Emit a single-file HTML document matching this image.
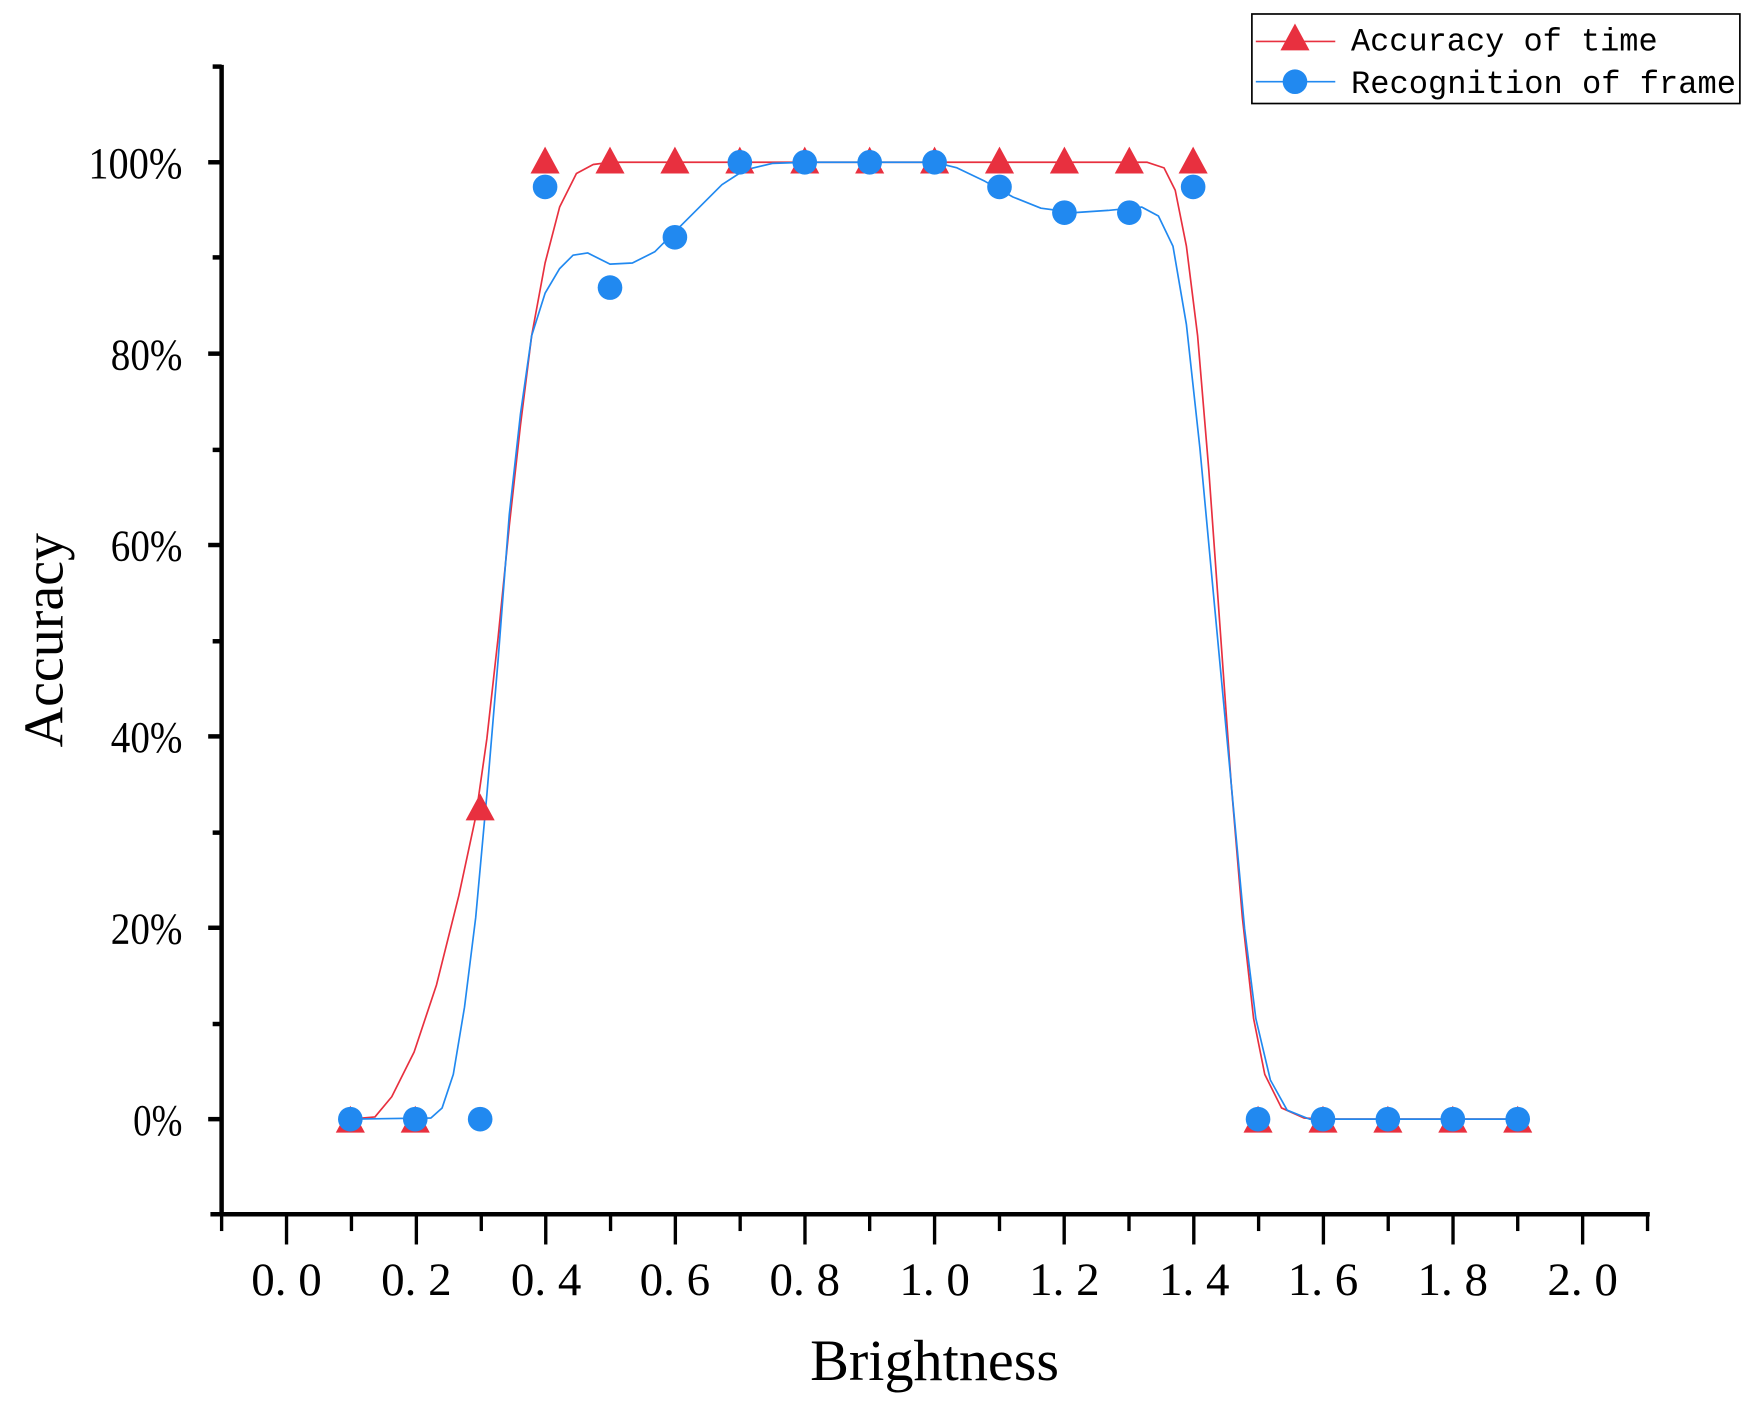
<!DOCTYPE html>
<html><head><meta charset="utf-8"><style>html,body{margin:0;padding:0;background:#fff}svg{display:block}</style></head><body>
<svg width="1755" height="1409" viewBox="0 0 1568 1259" preserveAspectRatio="none" xmlns="http://www.w3.org/2000/svg">
<rect width="1568" height="1259" fill="#fff"/>
<g stroke="#000" stroke-width="4" fill="none">
<line x1="198" y1="58" x2="198" y2="1087"/>
<line x1="188" y1="1085" x2="1474" y2="1085"/>
<line x1="186" y1="145" x2="198" y2="145"/><line x1="186" y1="316" x2="198" y2="316"/><line x1="186" y1="487" x2="198" y2="487"/><line x1="186" y1="658" x2="198" y2="658"/><line x1="186" y1="829" x2="198" y2="829"/><line x1="186" y1="1000" x2="198" y2="1000"/>
<line x1="190" y1="59.5" x2="198" y2="59.5"/><line x1="190" y1="230" x2="198" y2="230"/><line x1="190" y1="402" x2="198" y2="402"/><line x1="190" y1="573" x2="198" y2="573"/><line x1="190" y1="744" x2="198" y2="744"/><line x1="190" y1="915" x2="198" y2="915"/>
</g>
<g stroke="#000" stroke-width="3">
<line x1="256" y1="1085" x2="256" y2="1112"/><line x1="372" y1="1085" x2="372" y2="1112"/><line x1="487.6" y1="1085" x2="487.6" y2="1112"/><line x1="603.4" y1="1085" x2="603.4" y2="1112"/><line x1="719.2" y1="1085" x2="719.2" y2="1112"/><line x1="835" y1="1085" x2="835" y2="1112"/><line x1="950.8" y1="1085" x2="950.8" y2="1112"/><line x1="1066.6" y1="1085" x2="1066.6" y2="1112"/><line x1="1182.4" y1="1085" x2="1182.4" y2="1112"/><line x1="1298.2" y1="1085" x2="1298.2" y2="1112"/><line x1="1414" y1="1085" x2="1414" y2="1112"/>
<line x1="198" y1="1085" x2="198" y2="1100"/><line x1="314" y1="1085" x2="314" y2="1100"/><line x1="430" y1="1085" x2="430" y2="1100"/><line x1="545.5" y1="1085" x2="545.5" y2="1100"/><line x1="661.3" y1="1085" x2="661.3" y2="1100"/><line x1="777" y1="1085" x2="777" y2="1100"/><line x1="893" y1="1085" x2="893" y2="1100"/><line x1="1008.7" y1="1085" x2="1008.7" y2="1100"/><line x1="1124.5" y1="1085" x2="1124.5" y2="1100"/><line x1="1240.3" y1="1085" x2="1240.3" y2="1100"/><line x1="1356" y1="1085" x2="1356" y2="1100"/><line x1="1472" y1="1085" x2="1472" y2="1100"/>
</g>
<g font-family="Liberation Serif, serif" font-size="40" text-anchor="end" fill="#000">
<text x="163" y="159" textLength="84" lengthAdjust="spacingAndGlyphs">100%</text>
<text x="163" y="330" textLength="64" lengthAdjust="spacingAndGlyphs">80%</text>
<text x="163" y="501" textLength="64" lengthAdjust="spacingAndGlyphs">60%</text>
<text x="163" y="672" textLength="64" lengthAdjust="spacingAndGlyphs">40%</text>
<text x="163" y="843" textLength="64" lengthAdjust="spacingAndGlyphs">20%</text>
<text x="163" y="1014" textLength="44" lengthAdjust="spacingAndGlyphs">0%</text>
</g>
<g font-family="Liberation Serif, serif" font-size="42" text-anchor="middle" fill="#000">
<text x="256" y="1157">0. 0</text><text x="372" y="1157">0. 2</text><text x="488" y="1157">0. 4</text><text x="603" y="1157">0. 6</text><text x="719" y="1157">0. 8</text><text x="835" y="1157">1. 0</text><text x="951" y="1157">1. 2</text><text x="1067" y="1157">1. 4</text><text x="1182" y="1157">1. 6</text><text x="1298" y="1157">1. 8</text><text x="1414" y="1157">2. 0</text>
</g>
<text x="835" y="1233" font-family="Liberation Serif, serif" font-size="52" text-anchor="middle">Brightness</text>
<text transform="translate(56,572) rotate(-90)" font-family="Liberation Serif, serif" font-size="50" text-anchor="middle">Accuracy</text>
<polyline fill="none" stroke="#e8303f" stroke-width="1.5" stroke-linejoin="round" points="313,1000 335,998 350,980 370,940 390,880 410,800 425,730 435,660 445,570 455,470 465,380 475,300 487,235 500,185 515,155 530,147 545,145 1025,145 1040,150 1050,170 1060,220 1070,300 1080,420 1090,560 1100,700 1110,820 1120,910 1130,960 1145,990 1165,999 1182,1000 1356,1000"/>
<polyline fill="none" stroke="#2189f0" stroke-width="1.5" stroke-linejoin="round" points="313,1000 385,999 395,990 405,960 415,900 425,820 435,710 445,590 455,460 465,370 475,300 487,262 500,240 512,228 525,226 545,236 565,235 585,225 605,205 625,185 645,165 665,152 690,146 720,145 835,145 855,150 880,162 905,176 930,186 960,190 990,188 1020,185 1035,193 1048,220 1060,290 1072,400 1085,540 1100,700 1112,830 1122,910 1135,965 1150,992 1170,1000 1356,1000"/>
<g fill="#e8303f">
<polygon points="313,988 300,1012 326,1012"/><polygon points="371,988 358,1012 384,1012"/><polygon points="429,709 416,733 442,733"/>
<polygon points="487,131 474,155 500,155"/><polygon points="545,131 532,155 558,155"/><polygon points="603,131 590,155 616,155"/><polygon points="661,131 648,155 674,155"/><polygon points="719,131 706,155 732,155"/><polygon points="777,131 764,155 790,155"/><polygon points="835,131 822,155 848,155"/><polygon points="893,131 880,155 906,155"/><polygon points="951,131 938,155 964,155"/><polygon points="1009,131 996,155 1022,155"/><polygon points="1066,131 1053,155 1079,155"/>
<polygon points="1124,988 1111,1012 1137,1012"/><polygon points="1182,988 1169,1012 1195,1012"/><polygon points="1240,988 1227,1012 1253,1012"/><polygon points="1298,988 1285,1012 1311,1012"/><polygon points="1356,988 1343,1012 1369,1012"/>
</g>
<g fill="#2189f0">
<circle cx="313" cy="1000" r="11"/><circle cx="371" cy="1000" r="11"/><circle cx="429" cy="1000" r="11"/>
<circle cx="487" cy="167" r="11"/><circle cx="545" cy="257" r="11"/><circle cx="603" cy="212" r="11"/><circle cx="661" cy="145" r="11"/><circle cx="719" cy="145" r="11"/><circle cx="777" cy="145" r="11"/><circle cx="835" cy="145" r="11"/><circle cx="893" cy="167" r="11"/><circle cx="951" cy="190" r="11"/><circle cx="1009" cy="190" r="11"/><circle cx="1066" cy="167" r="11"/>
<circle cx="1124" cy="1000" r="11"/><circle cx="1182" cy="1000" r="11"/><circle cx="1240" cy="1000" r="11"/><circle cx="1298" cy="1000" r="11"/><circle cx="1356" cy="1000" r="11"/>
</g>
<rect x="1118.5" y="12.5" width="436" height="80" fill="none" stroke="#000" stroke-width="1.5"/>
<line x1="1122" y1="37" x2="1193" y2="37" stroke="#e8303f" stroke-width="1.5"/>
<polygon points="1157,21 1144,45 1170,45" fill="#e8303f"/>
<line x1="1122" y1="73" x2="1193" y2="73" stroke="#2189f0" stroke-width="1.5"/>
<circle cx="1157" cy="73" r="11" fill="#2189f0"/>
<g font-family="Liberation Mono, monospace" font-size="29" fill="#000">
<text x="1207" y="45" textLength="274" lengthAdjust="spacingAndGlyphs">Accuracy of time</text>
<text x="1207" y="83" textLength="344" lengthAdjust="spacingAndGlyphs">Recognition of frame</text>
</g>
</svg>
</body></html>
